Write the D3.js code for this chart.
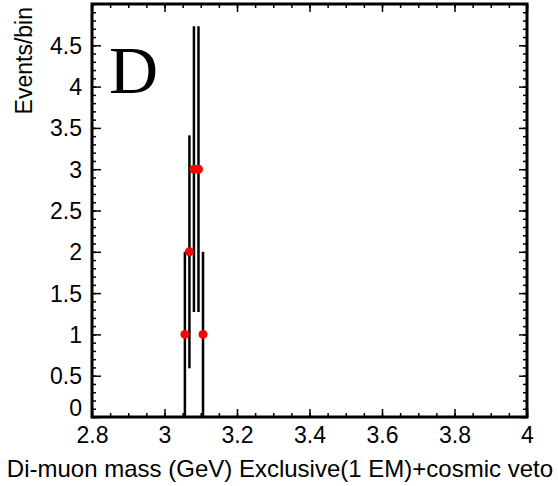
<!DOCTYPE html>
<html>
<head>
<meta charset="utf-8">
<script src="https://cdn.jsdelivr.net/npm/d3@7"></script>
<style>
  body { margin: 0; background: #fff; }
  text { font-family: "Liberation Sans", Arial, sans-serif; fill: #000; }
</style>
</head>
<body>
<script>
// bin centres (GeV), counts and error bar ends
const massBins = [3.05625, 3.06875, 3.08125, 3.09375, 3.10625];
const events   = [1, 2, 3, 3, 1];
const errLow   = [0, 0.59, 1.27, 1.27, 0];
const errHigh  = [2, 3.41, 4.73, 4.73, 2];

const xMajor = [2.8, 3, 3.2, 3.4, 3.6, 3.8, 4];
const yMajor = [0, 0.5, 1, 1.5, 2, 2.5, 3, 3.5, 4, 4.5];

const width = 558, height = 486;
const padL = 92, padR = 527, padT = 4, padB = 417;

const svg = d3.select("body").append("svg")
  .attr("width", width)
  .attr("height", height);

const x = d3.scaleLinear().domain([2.8, 4]).range([padL, padR]);
const y = d3.scaleLinear().domain([0, 5]).range([padB, padT]);

const xMinor = d3.range(2.8, 4.0001, 0.05).map(d => +d.toFixed(2));
const yMinor = d3.range(0, 5.0001, 0.1).map(d => +d.toFixed(1));

// minor ticks on all four sides
function minorAxis(axisFn, scale, vals, pos, size) {
  svg.append("g")
    .attr("transform", pos)
    .call(axisFn(scale).tickValues(vals).tickSize(size).tickFormat(""))
    .call(g => g.select(".domain").remove())
    .selectAll("line").attr("stroke", "#000").attr("stroke-width", 1.5);
}
minorAxis(d3.axisBottom, x, xMinor, `translate(0,${padB})`, -4);
minorAxis(d3.axisTop, x, xMinor, `translate(0,${padT})`, -4);
minorAxis(d3.axisLeft, y, yMinor, `translate(${padL},0)`, -4);
minorAxis(d3.axisRight, y, yMinor, `translate(${padR},0)`, -4);
minorAxis(d3.axisTop, x, xMajor, `translate(0,${padT})`, -8);
minorAxis(d3.axisRight, y, yMajor, `translate(${padR},0)`, -8);

// major axes with labels
svg.append("g")
  .attr("transform", `translate(0,${padB})`)
  .call(d3.axisBottom(x).tickValues(xMajor).tickSize(-8).tickPadding(10)
    .tickFormat(d => d3.format("")(d)))
  .call(g => g.select(".domain").remove())
  .call(g => g.selectAll("line").attr("stroke", "#000").attr("stroke-width", 1.5))
  .selectAll("text")
    .style("font-size", "23px");

svg.append("g")
  .attr("transform", `translate(${padL},0)`)
  .call(d3.axisLeft(y).tickValues(yMajor).tickSize(-9).tickPadding(10)
    .tickFormat(d => d3.format("")(d)))
  .call(g => g.select(".domain").remove())
  .call(g => g.selectAll("line").attr("stroke", "#000").attr("stroke-width", 1.5))
  .selectAll("text")
    .style("font-size", "23px")
    .attr("dy", d => d === 0 ? "-0.05em" : "0.35em");

// frame
svg.append("rect")
  .attr("x", padL).attr("y", padT)
  .attr("width", padR - padL).attr("height", padB - padT)
  .attr("fill", "none")
  .attr("stroke", "#000")
  .attr("stroke-width", 3);

// error bars
svg.selectAll(".err")
  .data(massBins)
  .enter()
  .append("line")
    .attr("class", "err")
    .attr("x1", d => x(d)).attr("x2", d => x(d))
    .attr("y1", (d, i) => y(errLow[i]))
    .attr("y2", (d, i) => y(errHigh[i]))
    .attr("stroke", "#000")
    .attr("stroke-width", 2.5);

// points
svg.selectAll(".pt")
  .data(massBins)
  .enter()
  .append("circle")
    .attr("class", "pt")
    .attr("cx", d => x(d))
    .attr("cy", (d, i) => y(events[i]))
    .attr("r", 4.5)
    .attr("fill", "#ff0000");

// titles
svg.append("text")
  .attr("x", 553).attr("y", 477)
  .attr("text-anchor", "end")
  .style("font-size", "24px")
  .text("Di-muon mass (GeV) Exclusive(1 EM)+cosmic veto");

svg.append("text")
  .attr("transform", "translate(32,7) rotate(-90)")
  .attr("text-anchor", "end")
  .style("font-size", "23px")
  .text("Events/bin");

svg.append("text")
  .attr("x", 109).attr("y", 93)
  .style("font-family", "'Liberation Serif', 'Times New Roman', serif")
  .style("font-size", "68px")
  .text("D");
</script>
</body>
</html>
